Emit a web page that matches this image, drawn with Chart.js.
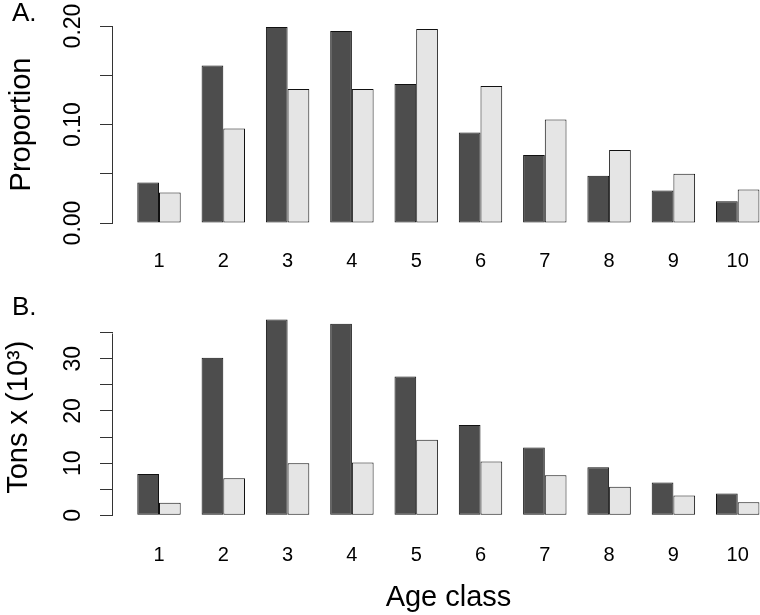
<!DOCTYPE html>
<html>
<head>
<meta charset="utf-8">
<script src="https://cdn.jsdelivr.net/npm/chart.js@4.4.1/dist/chart.umd.min.js"></script>
<style>
  html, body { margin: 0; padding: 0; background: #fff; width: 760px; height: 615px; overflow: hidden; }
  body { position: relative; }
  canvas { display: block; position: absolute; left: 0; }
  #propChart { top: 0; }
  #tonsChart { top: 260px; }
</style>
</head>
<body>
<canvas id="propChart" width="784" height="280"></canvas>
<canvas id="tonsChart" width="784" height="355"></canvas>
<script>
// age classes and the two series per panel (dark = first series, light = second)
const ageClasses = [1, 2, 3, 4, 5, 6, 7, 8, 9, 10];
const propDark  = [0.041, 0.160, 0.199, 0.195, 0.141, 0.092, 0.069, 0.048, 0.033, 0.022];
const propLight = [0.031, 0.096, 0.136, 0.136, 0.197, 0.139, 0.105, 0.074, 0.050, 0.034];
const tonsDark  = [7.9, 30.2, 37.5, 36.7, 26.6, 17.3, 13.0, 9.2, 6.3, 4.2];
const tonsLight = [2.4, 7.1, 10.0, 10.1, 14.5, 10.3, 7.7, 5.5, 3.8, 2.5];
const propTickLabels = [0, 0.10, 0.20];
const tonsTickLabels = [0, 10, 20, 30];

Chart.defaults.font.family = '"Liberation Sans", Arial, sans-serif';
Chart.defaults.color = '#000';

// R-style axis line (only between the end ticks) plus the panel letter
const rAxis = {
  id: 'rAxis',
  afterDraw(chart, args, opts) {
    const { ctx, chartArea, scales: { y } } = chart;
    const x = Math.round(chartArea.left) - 0.5;
    ctx.save();
    ctx.strokeStyle = '#333';
    ctx.lineWidth = 1;
    ctx.beginPath();
    ctx.moveTo(x, Math.round(y.getPixelForValue(opts.from)) + 0.5);
    ctx.lineTo(x, Math.round(y.getPixelForValue(opts.to)) + 0.5);
    ctx.stroke();
    ctx.fillStyle = '#000';
    ctx.font = '26px "Liberation Sans", Arial, sans-serif';
    ctx.textBaseline = 'alphabetic';
    ctx.fillText(opts.letter, 12, opts.letterY);
    ctx.restore();
  }
};

function toPoints(vals) {
  return ageClasses.map((a, i) => ({ x: a, y: vals[i] }));
}

function panel(id, dark, light, o) {
  return new Chart(document.getElementById(id), {
    type: 'bar',
    data: {
      datasets: [
        { data: toPoints(dark), backgroundColor: '#4d4d4d', borderColor: '#111', borderWidth: 1, borderSkipped: false },
        { data: toPoints(light), backgroundColor: '#e5e5e5', borderColor: '#111', borderWidth: 1, borderSkipped: false }
      ]
    },
    options: {
      responsive: false, animation: false, events: [],
      categoryPercentage: 0.675, barPercentage: 1,
      layout: { padding: { top: o.padTop, left: 0, right: 0, bottom: 0 } },
      plugins: {
        legend: { display: false }, tooltip: { enabled: false },
        rAxis: { from: 0, to: o.axisTop, letter: o.letter, letterY: o.letterY }
      },
      scales: {
        x: {
          type: 'linear', min: 0.2846, max: 10.72, offset: false,
          grid: { display: false, drawTicks: false, offset: false },
          border: { display: false },
          ticks: { stepSize: 1, includeBounds: false, autoSkip: false, maxRotation: 0, padding: o.xPad, font: { size: 20 } },
          title: { display: !!o.xTitle, text: o.xTitle || '', font: { size: 29 }, padding: { top: 0, bottom: 0 } },
          afterFit(s) { s.height = o.xHeight; }
        },
        y: {
          min: 0, max: o.yMax,
          border: { display: false },
          grid: { drawOnChartArea: false, drawTicks: true, tickLength: 13, color: '#333' },
          ticks: {
            stepSize: o.step, includeBounds: false, autoSkip: false,
            minRotation: 90, maxRotation: 90, crossAlign: 'center', padding: o.tickPad,
            font: { size: 23 }, callback: o.fmt
          },
          title: { display: true, text: o.yTitle, font: { size: 29 }, padding: { top: o.titlePad, bottom: 0 } },
          afterFit(s) { s.width = 113; }
        }
      }
    },
    plugins: [rAxis]
  });
}

panel('propChart', propDark, propLight, {
  padTop: 26, xHeight: 57, xPad: 26, yMax: 0.2, axisTop: 0.2, step: 0.05, tickPad: 3.6,
  letter: 'A.', letterY: 21, yTitle: 'Proportion', titlePad: 4.4,
  fmt: v => propTickLabels.some(t => Math.abs(t - v) < 1e-9) ? v.toFixed(2) : ''
});

panel('tonsChart', tonsDark, tonsLight, {
  padTop: 59.1, xHeight: 99.67, xPad: 28, yMax: 37.6, axisTop: 35, step: 5, tickPad: 13.2,
  letter: 'B.', letterY: 55, yTitle: 'Tons x (10³)', titlePad: 1.4, xTitle: 'Age class',
  fmt: v => tonsTickLabels.includes(v) ? String(v) : ''
});
</script>
</body>
</html>
